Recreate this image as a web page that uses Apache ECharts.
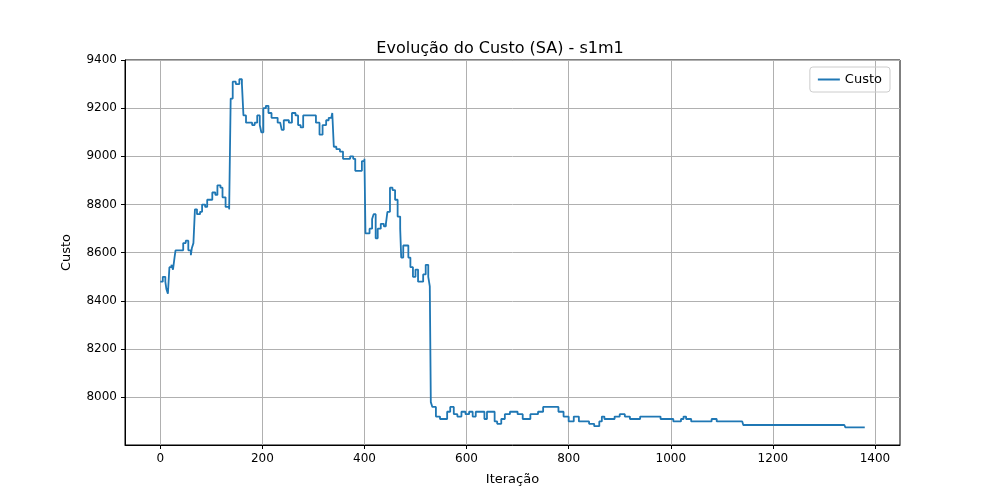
<!DOCTYPE html>
<html>
<head>
<meta charset="utf-8">
<title>Evolução do Custo (SA) - s1m1</title>
<script src="https://cdn.jsdelivr.net/npm/echarts@6.0.0/dist/echarts.min.js"></script>
<style>
    html, body { margin: 0; padding: 0; background: #fff; }
    #chart { width: 1000px; height: 500px; }
</style>
</head>
<body>
<div id="chart"></div>
<script>
// iterações e custos
var iters = [0,5,10,12,15,18,22,25,28,30,40,45,50,55,60,62,65,68,72,78,82,88,92,98,102,108,112,118,122,128,135,138,142,148,155,160,163,168,175,180,185,190,195,198,202,207,212,218,225,230,235,238,242,248,252,258,265,270,275,280,290,300,305,312,318,325,330,335,337,340,345,352,358,365,372,378,382,390,395,400,402,410,415,418,422,426,432,438,442,445,450,455,460,465,470,472,476,482,486,490,495,500,505,510,515,520,525,528,530,533,540,548,555,562,568,575,582,590,598,605,612,618,625,635,640,648,655,660,668,675,685,700,710,720,725,740,750,770,780,790,800,810,820,830,840,850,860,865,870,880,890,900,910,920,940,950,960,970,980,990,1000,1005,1020,1025,1030,1040,1060,1070,1080,1090,1140,1142,1340,1342,1380];
var custos = [8480,8500,8480,8450,8430,8540,8550,8530,8580,8610,8610,8640,8650,8610,8590,8620,8640,8780,8760,8770,8800,8790,8820,8820,8850,8840,8880,8870,8830,8790,8780,9240,9310,9300,9320,9300,9170,9140,9140,9130,9140,9170,9130,9100,9200,9210,9180,9160,9160,9140,9140,9110,9150,9150,9140,9180,9170,9130,9120,9170,9170,9170,9140,9090,9130,9150,9160,9160,9180,9040,9030,9020,8990,8990,9000,8990,8940,8940,8980,8990,8680,8700,8740,8760,8660,8700,8720,8710,8720,8770,8870,8860,8820,8750,8700,8580,8630,8630,8580,8540,8500,8530,8480,8480,8510,8550,8500,8460,7980,7960,7920,7910,7910,7940,7960,7930,7920,7940,7930,7940,7920,7940,7940,7910,7940,7940,7900,7890,7910,7930,7940,7930,7910,7910,7930,7940,7960,7960,7940,7920,7900,7920,7900,7900,7890,7880,7900,7920,7910,7910,7920,7930,7920,7910,7920,7920,7920,7920,7910,7910,7910,7900,7910,7920,7910,7900,7900,7900,7910,7900,7900,7885,7885,7875,7875];
var xTicks = [0,200,400,600,800,1000,1200,1400];
var yTicks = [8000,8200,8400,8600,8800,9000,9200,9400];

var pontos = [];
for (var i = 0; i < iters.length; i++) pontos.push([iters[i], custos[i]]);

var chart = echarts.init(document.getElementById('chart'));
var fonte = 'DejaVu Sans';
chart.setOption({
    animation: false,
    textStyle: { fontFamily: fonte },
    title: {
        text: 'Evolução do Custo (SA) - s1m1',
        left: 'center', top: 36,
        textStyle: { fontFamily: fonte, fontSize: 16, fontWeight: 'normal', color: '#000' }
    },
    legend: {
        right: 110, top: 67,
        data: ['Custo'],
        itemWidth: 22, itemHeight: 2, icon: 'rect',
        borderColor: '#ccc', borderWidth: 1, borderRadius: 3,
        padding: [6, 8],
        textStyle: { fontFamily: fonte, fontSize: 13, color: '#000' }
    },
    grid: { left: 125, right: 100, top: 60, bottom: 55, containLabel: false,
            show: true, borderColor: '#000', borderWidth: 1 },
    xAxis: {
        type: 'value', min: -69, max: 1449,
        name: 'Iteração', nameLocation: 'middle', nameGap: 28,
        nameTextStyle: { fontFamily: fonte, fontSize: 13, color: '#000' },
        axisLine: { onZero: false, lineStyle: { color: '#000' } },
        axisTick: { customValues: xTicks, length: 4, lineStyle: { color: '#000' } },
        axisLabel: { customValues: xTicks, color: '#000', fontSize: 12, fontFamily: fonte,
                     formatter: function (v) { return String(v); } },
        splitLine: { show: true, lineStyle: { color: '#b0b0b0', width: 1 } }
    },
    yAxis: {
        type: 'value', min: 7802, max: 9400,
        name: 'Custo', nameLocation: 'middle', nameGap: 52,
        nameTextStyle: { fontFamily: fonte, fontSize: 13, color: '#000' },
        axisLine: { show: true, onZero: false, lineStyle: { color: '#000' } },
        axisTick: { show: true, customValues: yTicks, length: 4, lineStyle: { color: '#000' } },
        axisLabel: { customValues: yTicks, color: '#000', fontSize: 12, fontFamily: fonte,
                     formatter: function (v) { return String(v); } },
        splitLine: { show: true, lineStyle: { color: '#b0b0b0', width: 1 } }
    },
    series: [{
        name: 'Custo', type: 'line', data: pontos, step: 'end',
        showSymbol: false, symbol: 'none',
        lineStyle: { color: '#1f77b4', width: 1.8 },
        itemStyle: { color: '#1f77b4' }
    }]
});
</script>
</body>
</html>
